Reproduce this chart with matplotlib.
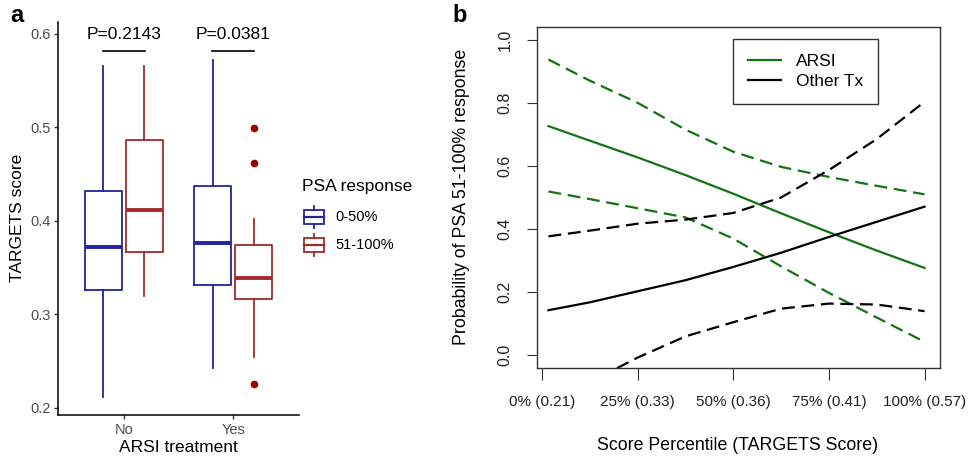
import matplotlib.pyplot as plt
from matplotlib.patches import Rectangle

plt.rcParams['font.family'] = ['Liberation Sans', 'DejaVu Sans']

# panel a: box plot stats
groups = ['No', 'Yes']
resp_labels = ['0-50%', '51-100%']
low_whislo = [0.212, 0.243]
low_q1 = [0.326, 0.332]
low_med = [0.372, 0.376]
low_q3 = [0.432, 0.437]
low_whishi = [0.566, 0.572]
high_whislo = [0.320, 0.255]
high_q1 = [0.367, 0.317]
high_med = [0.412, 0.339]
high_q3 = [0.487, 0.374]
high_whishi = [0.566, 0.402]
high_fliers = [[], [0.499, 0.462, 0.226]]
pvals = ['P=0.2143', 'P=0.0381']

# panel b: predicted probability curves
pct = [1.7, 12.5, 25, 37.5, 50, 62.5, 75, 87.5, 100]
pct_ticks = [0, 25, 50, 75, 100]
pct_labels = ['0% (0.21)', '25% (0.33)', '50% (0.36)', '75% (0.41)', '100% (0.57)']
arsi_fit = [0.726, 0.680, 0.627, 0.571, 0.512, 0.450, 0.390, 0.332, 0.277]
arsi_hi = [0.937, 0.870, 0.800, 0.715, 0.645, 0.597, 0.565, 0.537, 0.510]
arsi_lo = [0.519, 0.495, 0.466, 0.437, 0.370, 0.282, 0.198, 0.120, 0.043]
other_fit = [0.143, 0.168, 0.203, 0.238, 0.280, 0.325, 0.375, 0.423, 0.471]
other_hi = [0.377, 0.395, 0.417, 0.430, 0.451, 0.500, 0.587, 0.685, 0.803]
other_lo = [-0.160, -0.085, -0.007, 0.060, 0.105, 0.148, 0.164, 0.161, 0.140]

W, H = 968, 459
BLUE = '#2222A3'
RED = '#A52A2A'
GREEN = '#137313'


def fx(x):
    return x / W


def fy(y):
    return 1 - y / H


fig = plt.figure(figsize=(W / 100, H / 100), dpi=100)

# ---- panel a ----
ax1 = fig.add_axes([fx(58), fy(415), fx(299) - fx(58), fy(22) - fy(415)])
cats = [1, 2]
off = 0.186
for i, c in enumerate([BLUE, RED]):
    stats = []
    for j in range(len(groups)):
        if i == 0:
            s = dict(whislo=low_whislo[j], q1=low_q1[j], med=low_med[j],
                     q3=low_q3[j], whishi=low_whishi[j], fliers=[])
        else:
            s = dict(whislo=high_whislo[j], q1=high_q1[j], med=high_med[j],
                     q3=high_q3[j], whishi=high_whishi[j], fliers=high_fliers[j])
        stats.append(s)
    pos = [p + (-off if i == 0 else off) for p in cats]
    ax1.bxp(stats, positions=pos, widths=0.336, showcaps=False,
            boxprops=dict(color=c, lw=1.3),
            whiskerprops=dict(color=c, lw=1.3),
            medianprops=dict(color=c, lw=2.8),
            flierprops=dict(marker='o', mfc='#990000', mec='#990000', ms=4.5))

for p, txt in zip(cats, pvals):
    ax1.plot([p - 0.19, p + 0.19], [0.582, 0.582], color='black', lw=1.2, clip_on=False)
    ax1.text(p, 0.5995, txt, ha='center', va='center', fontsize=12.5, clip_on=False)

ax1.set_xlim(0.4, 2.6)
ax1.set_ylim(0.1925, 0.6128)
ax1.set_xticks(cats)
ax1.set_xticklabels(groups)
ax1.set_yticks([0.2, 0.3, 0.4, 0.5, 0.6])
ax1.set_yticklabels(['0.2', '0.3', '0.4', '0.5', '0.6'])
ax1.tick_params(length=3, width=1, color='#333333', labelcolor='#4D4D4D',
                labelsize=10.5, pad=2.5)
for s in ['top', 'right']:
    ax1.spines[s].set_visible(False)
for s in ['left', 'bottom']:
    ax1.spines[s].set_linewidth(1.1)

# ---- panel b ----
ax2 = fig.add_axes([fx(537), fy(368), fx(940) - fx(537), fy(27) - fy(368)])
dash = (0, (5.8, 3.0))
ax2.plot(pct, arsi_fit, color=GREEN, lw=1.6, label='ARSI')
ax2.plot(pct, other_fit, color='black', lw=1.6, label='Other Tx')
ax2.plot(pct, arsi_hi, color=GREEN, lw=1.6, ls=dash)
ax2.plot(pct, arsi_lo, color=GREEN, lw=1.6, ls=dash)
ax2.plot(pct, other_hi, color='black', lw=1.6, ls=dash)
ax2.plot(pct, other_lo, color='black', lw=1.6, ls=dash)
ax2.set_xlim(-1.3, 104.05)
ax2.set_ylim(-0.04, 1.04)
ax2.set_xticks(pct_ticks)
ax2.set_xticklabels(pct_labels)
ax2.set_yticks([0, 0.2, 0.4, 0.6, 0.8, 1.0])
ax2.set_yticklabels(['0.0', '0.2', '0.4', '0.6', '0.8', '1.0'], rotation=90, va='center')
ax2.tick_params(axis='x', length=8.5, pad=11, labelsize=11, color='#333333', labelcolor='#222222')
ax2.tick_params(axis='y', length=7.5, pad=10, labelsize=11.5, color='#333333', labelcolor='#222222')
for s in ax2.spines.values():
    s.set_linewidth(1.0)
    s.set_color('#333333')
leg = ax2.legend(loc='upper left', bbox_to_anchor=(0.486, 0.965), borderaxespad=0,
                 fontsize=12.5, handlelength=1.95, handletextpad=0.85,
                 labelspacing=0.3, borderpad=0.85, fancybox=False, framealpha=1)
leg.get_frame().set_edgecolor('#333333')
leg.get_frame().set_linewidth(1.0)

# ---- labels and panel a legend in pixel coords ----
ov = fig.add_axes([0, 0, 1, 1], facecolor='none')
ov.set_xlim(0, W)
ov.set_ylim(H, 0)
ov.axis('off')

ov.text(16.5, 15.5, 'a', fontsize=17, fontweight='bold', ha='center', va='center')
ov.text(460, 15.5, 'b', fontsize=17, fontweight='bold', ha='center', va='center')
ov.text(18, 218, 'TARGETS score', fontsize=12.5, rotation=90, ha='center', va='center')
ov.text(178.5, 448, 'ARSI treatment', fontsize=12.5, ha='center', va='center')
ov.text(462, 197, 'Probability of PSA 51-100% response', fontsize=12.8, rotation=90,
        ha='center', va='center')
ov.text(738, 445, 'Score Percentile (TARGETS Score)', fontsize=12.8, ha='center', va='center')

ov.text(302, 187, 'PSA response', fontsize=12.5, ha='left', va='center')
for k, (c, lab) in enumerate(zip([BLUE, RED], resp_labels)):
    cy = 217 + k * 28
    ov.add_patch(Rectangle((304, cy - 7), 20, 14, fill=False, edgecolor=c, lw=1.3))
    ov.plot([304, 324], [cy, cy], color=c, lw=1.6)
    ov.plot([314, 314], [cy - 11, cy - 7], color=c, lw=1.3)
    ov.plot([314, 314], [cy + 7, cy + 11], color=c, lw=1.3)
    ov.text(335, cy, lab, fontsize=10.5, ha='left', va='center')

fig.savefig('out.png', dpi=100)
